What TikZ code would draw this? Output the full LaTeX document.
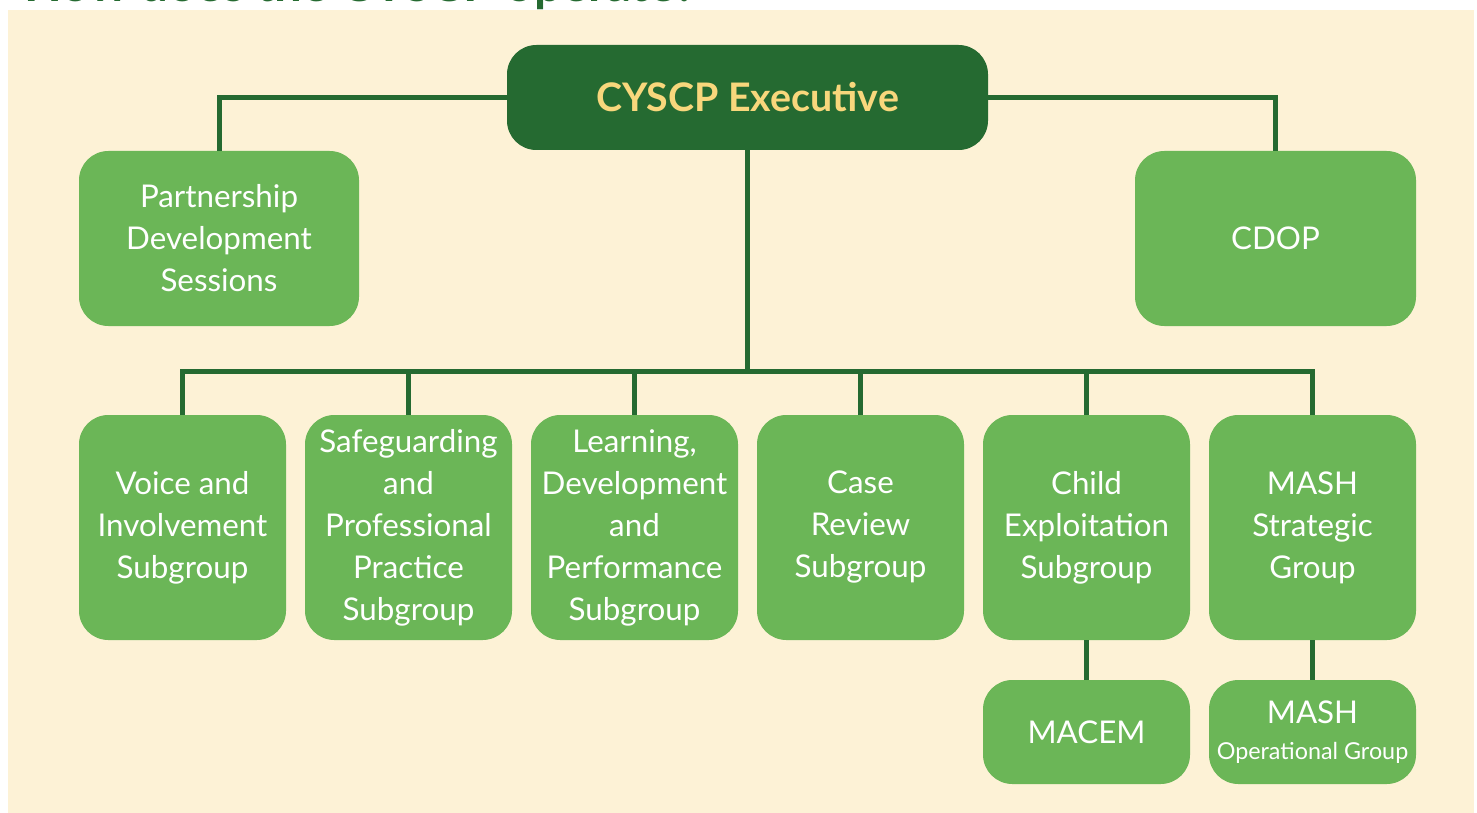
\documentclass[tikz,border=0pt]{standalone}
\usepackage{fontspec}
\setmainfont{Lato}
\definecolor{bg}{HTML}{FDF2D6}
\definecolor{lg}{HTML}{6BB657}
\definecolor{dg}{HTML}{256A31}
\definecolor{yl}{HTML}{F8D77C}
\begin{document}
\begin{tikzpicture}[x=0.75pt,y=-0.75pt,
  box/.style={fill=lg,rounded corners=22pt,text=white,align=center,inner sep=0pt,
    font=\fontsize{23.5}{31.5}\selectfont},
  subbox/.style={box,minimum width=155.25pt,minimum height=168.75pt},
  smallbox/.style={box,minimum width=155.25pt,minimum height=78pt},
  conn/.style={draw=dg,line width=3.75pt}]
\useasboundingbox (0,0) rectangle (1477,813);
\clip (0,0) rectangle (1477,813);
\fill[white] (0,0) rectangle (1477,813);
\fill[bg] (8,10) rectangle (1474,813);
\node[anchor=base west,inner sep=0pt,text=dg,font=\bfseries] (title) at (24,1.5)
  {\resizebox{504pt}{!}{How does the CYSCP operate?}};
% nodes
\node[box,fill=dg,text=yl,minimum width=360.75pt,minimum height=78.75pt,
  font=\fontsize{29.5}{34}\selectfont\bfseries] (exec) at (747.5,97.5) {CYSCP Executive};
\node[box,minimum width=210pt,minimum height=131.25pt] (pds) at (219,238.5)
  {Partnership\\Development\\Sessions};
\node[box,minimum width=210.75pt,minimum height=131.25pt] (cdop) at (1275.5,238.5) {CDOP};
\node[subbox] (voice) at (182.5,527.5) {Voice and\\Involvement\\Subgroup};
\node[subbox] (safe) at (408.5,527.5) {Safeguarding\\and\\Professional\\Practice\\Subgroup};
\node[subbox] (learn) at (634.5,527.5) {Learning,\\Development\\and\\Performance\\Subgroup};
\node[subbox] (case) at (860.5,527.5) {Case\\Review\\Subgroup};
\node[subbox] (child) at (1086.5,527.5) {Child\\Exploitation\\Subgroup};
\node[subbox] (mash) at (1312.5,527.5) {MASH\\Strategic\\Group};
\node[smallbox] (macem) at (1086.5,732) {MACEM};
\node[smallbox] (mashop) at (1312.5,732) {MASH\\[-5pt]{\fontsize{17.5}{19}\selectfont Operational Group}};
% connectors
\coordinate (bus) at (747.5,371);
\draw[conn] (exec.west) -| (pds.north);
\draw[conn] (exec.east) -| (cdop.north);
\draw[conn] (exec.south) -- (bus);
\foreach \n in {voice,safe,learn,case,child,mash}
  \draw[conn] (bus) -| (\n.north);
\draw[conn] (child.south) -- (macem.north);
\draw[conn] (mash.south) -- (mashop.north);
\end{tikzpicture}
\end{document}
